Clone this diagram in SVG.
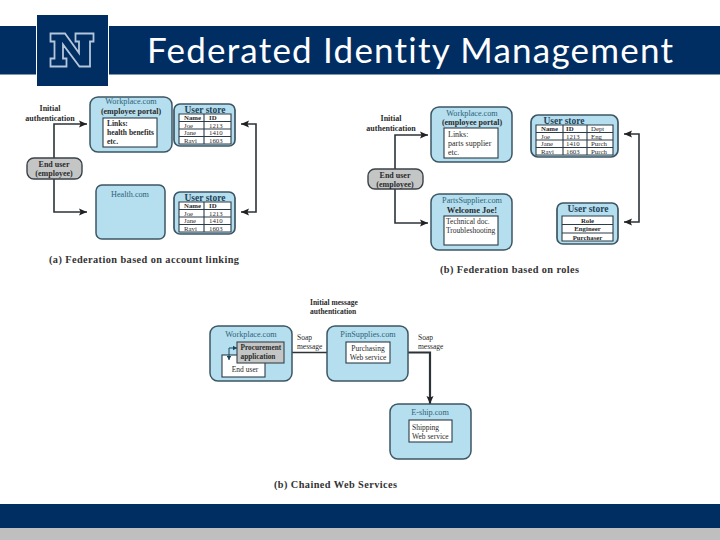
<svg xmlns="http://www.w3.org/2000/svg" width="720" height="540" viewBox="0 0 720 540">
<style>
text{font-family:"Liberation Serif","Times New Roman",serif;fill:#2a2a2a;font-size:8px}
.c{text-anchor:middle}
.b{font-weight:bold}
.s{fill:#2f6478;font-size:8.2px}
.u{fill:#1f4258;font-size:9.5px;font-weight:bold;text-anchor:middle}
.t{font-size:7.5px}
.g{font-size:6.8px}
.p{font-size:7.300px;font-weight:bold}
.cap{font-size:10.300px;font-weight:bold;fill:#333}
.box{fill:#b5deee;stroke:#3c5664;stroke-width:1.5}
.store{fill:#b5deee;stroke:#3c5664;stroke-width:1.7}
.w{fill:#fff;stroke:#2c3c48;stroke-width:1.1}
.grid{fill:#fff;stroke:#2c3c48;stroke-width:1.1}
.user{fill:#c4c6c6;stroke:#3a4248;stroke-width:1.4}
.ln{fill:none;stroke:#2b3338;stroke-width:1.6}
.thick{fill:none;stroke:#2b3338;stroke-width:2.2}
</style>
<defs>
<marker id="a" markerUnits="userSpaceOnUse" markerWidth="9" markerHeight="8" refX="8" refY="4" orient="auto-start-reverse"><path d="M0 .5L8 4L0 7.500L1.500 4Z" fill="#222"/></marker>
<marker id="sm" markerUnits="userSpaceOnUse" markerWidth="5" markerHeight="5" refX="4.500" refY="2.500" orient="auto-start-reverse"><path d="M0 0L4.500 2.500L0 5Z" fill="#15485c"/></marker>
</defs>
<rect width="720" height="540" fill="#fff"/>
<g id="slide-frame">
<rect x="0" y="26" width="36" height="48.500" fill="#002d62"/>
<rect x="109" y="26" width="611" height="48.500" fill="#002d62"/>
<rect x="37" y="15" width="71" height="71" fill="#002d62"/>
<path d="M50.500 33.500H65L79 53V41.500H75.500V33.500H93.500V41.500H90V66.500H79.500L63 44.500V58.500H66.500V66.500H50.500V58.500H54.500V41.500H50.500Z" fill="#002d62" stroke="#b4c6da" stroke-width="1.800"/>
<text x="147" y="63" textLength="526" style="font-family:Lato,'Open Sans',sans-serif;font-size:35px;fill:#fff;font-variant-ligatures:none">Federated Identity Management</text>
<rect x="0" y="504" width="720" height="24" fill="#002d62"/>
<rect x="0" y="528" width="720" height="12" fill="#bfbfbf"/>
</g>
<g id="connectors">
<path class="ln" d="M54 158V124H87" marker-end="url(#a)"/>
<path class="ln" d="M54 179V212H87" marker-end="url(#a)"/>
<path class="ln" d="M241 124H256V212H241" marker-start="url(#a)" marker-end="url(#a)"/>
<path class="ln" d="M395 169V135H428" marker-end="url(#a)"/>
<path class="ln" d="M395 189V223H428" marker-end="url(#a)"/>
<path class="ln" d="M624 134H639V222H624" marker-start="url(#a)" marker-end="url(#a)"/>
<path class="ln" d="M284 352.500H346" marker-end="url(#a)"/>
<path class="thick" d="M390 352.500H430V404" marker-end="url(#a)"/>
</g>
<g id="a-workplace"><rect class="box" x="90" y="97" width="82" height="55" rx="8"/>
<text class="s c" x="131" y="104">Workplace.com</text><text class="b c" x="131" y="114">(employee portal)</text>
<rect class="w" x="103" y="118" width="54" height="29"/>
<text class="b t" x="107" y="125.500">Links:</text><text class="b t" x="107" y="134.500">health benefits</text><text class="b t" x="107" y="143.500">etc.</text></g>
<g id="a-store1"><rect class="store" x="174" y="104" width="61" height="42" rx="6"/>
<text class="u" x="205" y="112.500">User store</text>
<path class="grid" d="M179 114H231V144H179ZM179 121.500H231M179 129H231M179 136.500H231M204 114V144"/>
<text class="g b" x="184" y="120">Name</text><text class="g b" x="209" y="120">ID</text>
<text class="g" x="184" y="127.500">Joe</text><text class="g" x="209" y="127.500">1213</text>
<text class="g" x="184" y="135">Jane</text><text class="g" x="209" y="135">1410</text>
<text class="g" x="184" y="142.500">Ravi</text><text class="g" x="209" y="142.500">1603</text></g>
<g id="a-enduser"><rect class="user" x="27" y="158" width="55" height="21" rx="7"/>
<text class="b c" x="54" y="166.500">End user</text><text class="b c" x="54" y="176">(employee)</text></g>
<g id="a-health"><rect class="box" x="96" y="185" width="69" height="54" rx="6"/><text class="s c" x="130" y="197">Health.com</text></g>
<g id="a-store2"><rect class="store" x="174" y="192" width="61" height="42" rx="6"/>
<text class="u" x="205" y="200.500">User store</text>
<path class="grid" d="M179 202H231V232H179ZM179 209.500H231M179 217H231M179 224.500H231M204 202V232"/>
<text class="g b" x="184" y="208">Name</text><text class="g b" x="209" y="208">ID</text>
<text class="g" x="184" y="215.500">Joe</text><text class="g" x="209" y="215.500">1213</text>
<text class="g" x="184" y="223">Jane</text><text class="g" x="209" y="223">1410</text>
<text class="g" x="184" y="230.500">Ravi</text><text class="g" x="209" y="230.500">1603</text></g>
<g id="a-labels"><text class="b c" x="50" y="111">Initial</text><text class="b c" x="50" y="121">authentication</text>
<text class="cap" x="49" y="263" textLength="190">(a) Federation based on account linking</text></g>

<g id="b-workplace"><rect class="box" x="431" y="107" width="81" height="55" rx="8"/>
<text class="s c" x="472" y="115.500">Workplace.com</text><text class="b c" x="472" y="125">(employee portal)</text>
<rect class="w" x="444" y="128" width="54" height="30"/>
<text x="448" y="137">Links:</text><text x="448" y="146">parts supplier</text><text x="448" y="155">etc.</text></g>
<g id="b-store1"><rect class="store" x="531" y="115" width="87" height="42" rx="7"/>
<text class="u" x="564" y="123.500">User store</text>
<path class="grid" d="M536 125H613V155H536ZM536 132.500H613M536 140H613M536 147.500H613M563 125V155M587 125V155"/>
<text class="g b" x="541" y="131">Name</text><text class="g b" x="566" y="131">ID</text><text class="g" x="591" y="131">Dept</text>
<text class="g" x="541" y="138.500">Joe</text><text class="g" x="566" y="138.500">1213</text><text class="g" x="591" y="138.500">Eng</text>
<text class="g" x="541" y="146">Jane</text><text class="g" x="566" y="146">1410</text><text class="g" x="591" y="146">Purch</text>
<text class="g" x="541" y="153.500">Ravi</text><text class="g" x="566" y="153.500">1603</text><text class="g" x="591" y="153.500">Purch</text></g>
<g id="b-enduser"><rect class="user" x="368" y="169" width="55" height="20" rx="7"/>
<text class="b c" x="395" y="177.500">End user</text><text class="b c" x="395" y="187">(employee)</text></g>
<g id="b-parts"><rect class="box" x="431" y="194" width="81" height="56" rx="8"/>
<text class="s c" x="472" y="203">PartsSupplier.com</text><text class="b c" x="472" y="213" style="font-size:8.500px">Welcome Joe!</text>
<rect class="w" x="444" y="216" width="54" height="29"/>
<text class="t" x="446" y="223.500">Technical doc.</text><text class="t" x="446" y="233">Troubleshooting</text></g>
<g id="b-store2"><rect class="store" x="557" y="203" width="61" height="41" rx="6"/>
<text class="u" x="588" y="211.500">User store</text>
<path class="grid" d="M562 216H613V241H562ZM562 224.500H613M562 233H613"/>
<text class="g b c" x="587.500" y="222.800">Role</text><text class="g b c" x="587.500" y="231.300">Engineer</text><text class="g b c" x="587.500" y="239.500">Purchaser</text></g>
<g id="b-labels"><text class="b c" x="391" y="121">Initial</text><text class="b c" x="391" y="131">authentication</text>
<text class="cap" x="440" y="273" textLength="139">(b) Federation based on roles</text></g>

<g id="c-workplace"><rect class="box" x="210" y="326" width="82" height="55" rx="8"/>
<text class="s c" x="251" y="337">Workplace.com</text>
<rect class="w" x="222" y="355" width="43" height="22"/>
<rect class="user" x="237" y="342" width="47" height="21" style="stroke-width:1.100"/>
<text class="p" x="240.500" y="350">Procurement</text><text class="p" x="240.500" y="358.500">application</text>
<text class="t c" x="245" y="372">End user</text>
<path d="M229 360V348H237" fill="none" stroke="#15485c" stroke-width="1" marker-start="url(#sm)" marker-end="url(#sm)"/></g>
<g id="c-pin"><rect class="box" x="327" y="326" width="81" height="55" rx="8"/>
<text class="s c" x="368" y="337">PinSupplies.com</text>
<rect class="w" x="346" y="342" width="44" height="21"/>
<text class="t c" x="368" y="351">Purchasing</text><text class="t c" x="368" y="360">Web service</text></g>
<g id="c-eship"><rect class="box" x="390" y="404" width="81" height="55" rx="8"/>
<text class="s c" x="430" y="415">E-ship.com</text>
<rect class="w" x="409" y="420" width="43" height="22"/>
<text class="t" x="412" y="430">Shipping</text><text class="t" x="412" y="439">Web service</text></g>
<g id="c-labels">
<text class="b t" x="310" y="305">Initial message</text><text class="b t" x="310" y="314">authentication</text>
<text class="t" x="297" y="340">Soap</text><text class="t" x="297" y="349">message</text>
<text class="t" x="418" y="340">Soap</text><text class="t" x="418" y="349">message</text>
<text class="cap" x="274" y="488" textLength="123">(b) Chained Web Services</text></g>
</svg>
